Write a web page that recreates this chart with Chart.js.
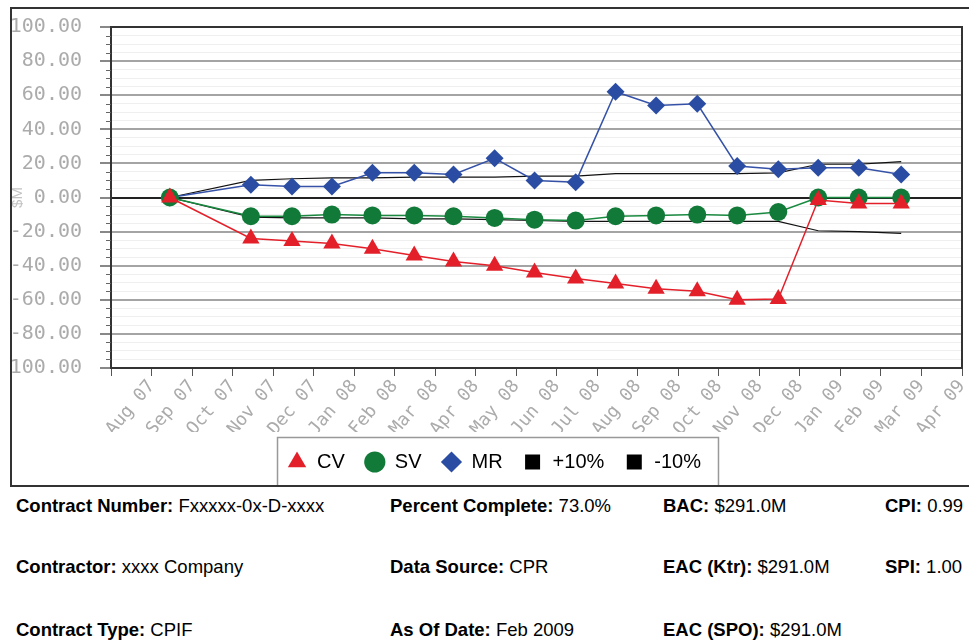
<!DOCTYPE html>
<html>
<head>
<meta charset="utf-8">
<script src="https://cdn.jsdelivr.net/npm/chart.js@4.4.0/dist/chart.umd.min.js"></script>
<style>
  body { margin: 0; width: 969px; height: 644px; overflow: hidden; background: #fff;
         font-family: "Liberation Sans", Arial, sans-serif; }
  #frame { position: absolute; left: 10px; top: 7px; width: 1000px; height: 476px;
           border: 2px solid #333; overflow: hidden; }
  #frame canvas { position: absolute; left: 0; top: 0; }
  .info { position: absolute; font-size: 18.5px; line-height: 18px; white-space: nowrap; color: #000; }
</style>
</head>
<body>
<div id="frame"><canvas id="evmChart" width="970" height="476"></canvas></div>

<div class="info" style="left:16px;top:497px"><b>Contract Number:</b> Fxxxxx-0x-D-xxxx</div>
<div class="info" style="left:390px;top:497px"><b>Percent Complete:</b> 73.0%</div>
<div class="info" style="left:663px;top:497px"><b>BAC:</b> $291.0M</div>
<div class="info" style="left:885px;top:497px"><b>CPI:</b> 0.99</div>

<div class="info" style="left:16px;top:558px"><b>Contractor:</b> xxxx Company</div>
<div class="info" style="left:390px;top:558px"><b>Data Source:</b> CPR</div>
<div class="info" style="left:663px;top:558px"><b>EAC (Ktr):</b> $291.0M</div>
<div class="info" style="left:885px;top:558px"><b>SPI:</b> 1.00</div>

<div class="info" style="left:16px;top:621px"><b>Contract Type:</b> CPIF</div>
<div class="info" style="left:390px;top:621px"><b>As Of Date:</b> Feb 2009</div>
<div class="info" style="left:663px;top:621px"><b>EAC (SPO):</b> $291.0M</div>

<script>
// axe des x : un tick par mois, Jul 07 = 0 (sans etiquette)
const monthLabels = ['', 'Aug 07', 'Sep 07', 'Oct 07', 'Nov 07', 'Dec 07', 'Jan 08', 'Feb 08',
  'Mar 08', 'Apr 08', 'May 08', 'Jun 08', 'Jul 08', 'Aug 08', 'Sep 08', 'Oct 08', 'Nov 08',
  'Dec 08', 'Jan 09', 'Feb 09', 'Mar 09', 'Apr 09'];

// dates des rapports (mi-mois)
const reportDates = ['2007-08-15', '2007-10-15', '2007-11-15', '2007-12-15', '2008-01-15',
  '2008-02-15', '2008-03-15', '2008-04-15', '2008-05-15', '2008-06-15', '2008-07-15',
  '2008-08-15', '2008-09-15', '2008-10-15', '2008-11-15', '2008-12-15', '2009-01-15', '2009-02-15'];

// valeurs en $M
const cvValues = [0, -24, -25.5, -27, -30, -34, -37.5, -40, -44, -47.5, -50.5, -53.5, -55, -60, -59.5, -1.5, -3.5, -3.5];
const svValues = [0, -11, -11, -10, -10.5, -10.5, -11, -12, -13, -13.5, -11, -10.5, -10, -10.5, -8.5, 0, 0, 0];
const mrValues = [0, 7.5, 6.5, 6.5, 14.5, 14.5, 13.5, 23, 10, 9, 62, 54, 55, 18.5, 16.5, 17.5, 17.5, 13.5];
const plus10Values = [0, 10, 11, 11.5, 11.5, 12, 12, 12, 12.5, 12.5, 14, 14, 14, 14, 14.5, 19.5, 19.5, 21];
const minus10Values = [0, -11.5, -12, -12, -12, -12.5, -12.5, -13, -13.5, -14, -14, -14, -14, -14, -14, -19.5, -20, -21];

// position d'une date sur l'axe des mois
function monthPos(dateStr) {
  const [y, m, d] = dateStr.split('-').map(Number);
  const daysInMonth = new Date(y, m, 0).getDate();
  return (y - 2007) * 12 + (m - 7) + (d - 1) / daysInMonth;
}

function toPoints(values) {
  return values.map((v, i) => ({ x: monthPos(reportDates[i]), y: v }));
}

const isMajor = v => Math.round(v) % 20 === 0;
const LEGEND_SHIFT = 7;

// cadre du graphique + petits ticks mineurs + cadre de la legende
const framePlugin = {
  id: 'framePlugin',
  beforeDraw(chart) {
    // la legende est un peu decalee a droite dans l'original
    if (!chart.$legendShifted) {
      chart.legend.left += LEGEND_SHIFT;
      chart.legend.right += LEGEND_SHIFT;
      chart.$legendShifted = true;
    }
  },
  beforeDatasetsDraw(chart) {
    const { ctx, chartArea } = chart;
    ctx.save();
    ctx.strokeStyle = '#333';
    ctx.lineWidth = 2;
    ctx.strokeRect(chartArea.left, chartArea.top, chartArea.right - chartArea.left, chartArea.bottom - chartArea.top);
    const yScale = chart.scales.y;
    ctx.strokeStyle = '#666';
    ctx.lineWidth = 1;
    yScale.ticks.forEach(t => {
      if (isMajor(t.value)) return;
      const py = Math.round(yScale.getPixelForValue(t.value)) + 0.5;
      ctx.beginPath();
      ctx.moveTo(chartArea.left - 5, py);
      ctx.lineTo(chartArea.left, py);
      ctx.stroke();
    });
    ctx.restore();
  },
  afterDraw(chart) {
    const legend = chart.legend;
    const pad = legend.options.labels.padding;
    const lineW = legend.lineWidths[0];
    const start = (legend.left + pad + legend.right - lineW) / 2;
    const left = start - 10;
    const right = start + lineW - pad + 17;
    const top = legend.top + pad + 10 - 25;
    const { ctx } = chart;
    ctx.save();
    ctx.strokeStyle = '#999';
    ctx.lineWidth = 1.5;
    ctx.strokeRect(left + 0.5, top + 0.5, right - left, chart.height - top + 5);
    ctx.restore();
  }
};

const ctx = document.getElementById('evmChart').getContext('2d');
new Chart(ctx, {
  type: 'line',
  data: {
    datasets: [
      {
        label: 'CV', data: toPoints(cvValues),
        borderColor: '#e3202a', backgroundColor: '#e3202a', borderWidth: 1.5,
        pointStyle: 'triangle', pointRadius: 10, pointBorderWidth: 0
      },
      {
        label: 'SV', data: toPoints(svValues),
        borderColor: '#1a8a40', backgroundColor: '#117a38', borderWidth: 1.5,
        pointStyle: 'circle', pointRadius: 9, pointBorderWidth: 0
      },
      {
        label: 'MR', data: toPoints(mrValues),
        borderColor: '#3552a8', backgroundColor: '#2a4da3', borderWidth: 1.5,
        pointStyle: 'rectRot', pointRadius: 9, pointBorderWidth: 0
      },
      {
        label: '+10%', data: toPoints(plus10Values),
        borderColor: '#111', backgroundColor: '#000', borderWidth: 1.2,
        pointStyle: 'rect', pointRadius: 0, pointBorderWidth: 0
      },
      {
        label: '-10%', data: toPoints(minus10Values),
        borderColor: '#111', backgroundColor: '#000', borderWidth: 1.2,
        pointStyle: 'rect', pointRadius: 0, pointBorderWidth: 0
      }
    ]
  },
  options: {
    responsive: false,
    animation: false,
    events: [],
    layout: { padding: { top: 18, left: 0, right: 20, bottom: 3 } },
    scales: {
      x: {
        type: 'linear', min: 0, max: 21,
        ticks: {
          stepSize: 1, autoSkip: false, minRotation: 50, maxRotation: 50, padding: 0,
          color: '#ababab', font: { family: 'DejaVu Sans Mono', size: 18 },
          callback: v => monthLabels[Math.round(v)]
        },
        grid: { drawOnChartArea: false, tickLength: 8, tickColor: '#555' },
        border: { color: '#333', width: 2 },
        afterFit: s => { s.height = 64; }
      },
      y: {
        min: -100, max: 100,
        ticks: {
          stepSize: 5, autoSkip: false, padding: 18,
          color: '#ababab', font: { family: 'DejaVu Sans Mono', size: 20 },
          callback: v => isMajor(v) ? v.toFixed(2) : ''
        },
        grid: {
          color: c => c.tick.value === 0 ? '#222' : (isMajor(c.tick.value) ? '#a4a4a4' : '#efefef'),
          lineWidth: c => isMajor(c.tick.value) ? 2 : 1,
          tickLength: 11,
          tickColor: c => isMajor(c.tick.value) ? '#888' : 'transparent'
        },
        border: { color: '#333', width: 2 },
        title: {
          display: true, text: '$M', color: '#c4c4c4',
          font: { family: 'Liberation Sans', size: 15 }, padding: { top: -3, bottom: 0 }
        },
        afterFit: s => { s.width = 99; s.paddingTop = 12; s.paddingBottom = 12; }
      }
    },
    plugins: {
      tooltip: { enabled: false },
      legend: {
        position: 'bottom',
        labels: {
          usePointStyle: true, boxHeight: 15, padding: 20, color: '#000',
          font: { family: 'Liberation Sans', size: 20 }
        }
      }
    }
  },
  plugins: [framePlugin]
});
</script>
</body>
</html>
